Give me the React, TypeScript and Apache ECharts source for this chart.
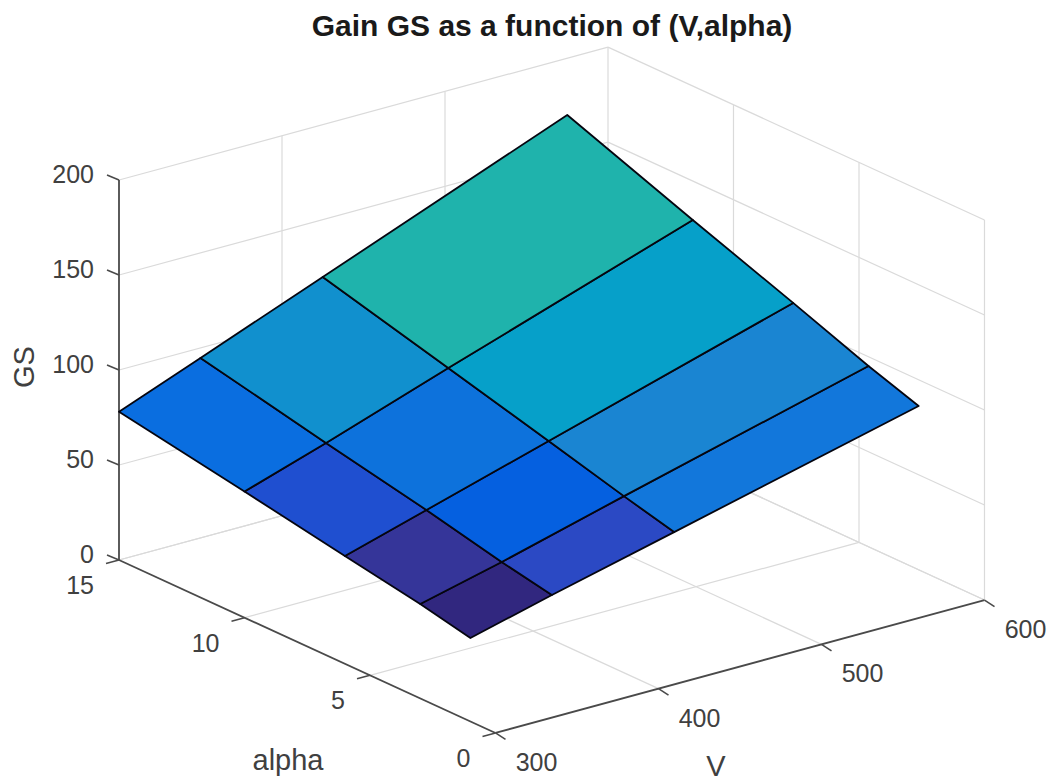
import React, { useEffect, useRef } from "react";
import * as echarts from "echarts";

// Data
const alphaValues = [1, 3, 6, 10, 15];
const voltageValues = [300, 350, 425, 575];
const gsRowAlpha1 = [43.9, 54.9, 70.5, 101.9];
const gsRowAlpha3 = [49.7, 60.1, 77.3, 110.8];
const gsRowAlpha6 = [56.7, 69.3, 88.1, 125.8];
const gsRowAlpha10 = [66.4, 80.3, 102.2, 145.2];
const gsRowAlpha15 = [78.05, 94.7, 119.8, 170.1];
const gsRows = [gsRowAlpha1, gsRowAlpha3, gsRowAlpha6, gsRowAlpha10, gsRowAlpha15];

const alphaTicks = [0, 5, 10, 15];
const voltageTicks = [300, 400, 500, 600];
const gsTicks = [0, 50, 100, 150, 200];

const colorLevels = [43.9, 49.7, 54.9, 56.7, 60.1, 66.4, 69.3, 70.5, 77.3, 80.3, 88.1, 102.2];
const colorRamp = [
  "#31277f", "#353599", "#2b49c4", "#1f4fd0", "#0560e0", "#0a6ee0",
  "#0d72dc", "#1277db", "#1a85d2", "#1190ce", "#06a0c9", "#1fb3ac",
];

const TITLE = "Gain GS as a function of (V,alpha)";
const FONT = "'Liberation Sans', Arial, Helvetica, sans-serif";
const LABEL_SIZE = 25;
const TEXT_COLOR = "#404040";
const AXIS_COLOR = "#4a4a4a";
const GRID_COLOR = "#dadada";

// Orthographic view of the 3-D box onto the hidden 2-D axes
const ALPHA_MAX = 15;
const V_MIN = 300;
const V_MAX = 600;
const GS_MAX = 200;
function project(a: number, v: number, z: number): [number, number] {
  const da = ALPHA_MAX - a;
  const dv = v - V_MIN;
  return [119 + da * 25.1 + dv * 1.63, 560 + da * 11.53 - dv * 0.443 - z * 1.9];
}

function colorFor(value: number): string {
  let best = 0;
  let bestDist = Infinity;
  colorLevels.forEach((level, i) => {
    const d = Math.abs(level - value);
    if (d < bestDist) {
      bestDist = d;
      best = i;
    }
  });
  return colorRamp[best];
}

type Seg = [number, number, number, number, number, number];

function gridSegments(): Seg[] {
  const out: Seg[] = [];
  gsTicks.forEach((z) => {
    out.push([ALPHA_MAX, V_MIN, z, ALPHA_MAX, V_MAX, z]);
    out.push([ALPHA_MAX, V_MAX, z, 0, V_MAX, z]);
  });
  voltageTicks.slice(1).forEach((v) => {
    out.push([ALPHA_MAX, v, 0, ALPHA_MAX, v, GS_MAX]);
    out.push([ALPHA_MAX, v, 0, 0, v, 0]);
  });
  alphaTicks.forEach((a) => {
    if (a !== ALPHA_MAX) out.push([a, V_MAX, 0, a, V_MAX, GS_MAX]);
    if (a !== 0) out.push([a, V_MIN, 0, a, V_MAX, 0]);
  });
  return out;
}

const axisSegments: Seg[] = [
  [ALPHA_MAX, V_MIN, 0, ALPHA_MAX, V_MIN, GS_MAX],
  [ALPHA_MAX, V_MIN, 0, 0, V_MIN, 0],
  [0, V_MIN, 0, 0, V_MAX, 0],
];

const surfaceCells: number[][] = [];
for (let i = 0; i < alphaValues.length - 1; i++) {
  for (let j = 0; j < voltageValues.length - 1; j++) {
    surfaceCells.push([i, j]);
  }
}

type TickItem = [number, number, number, string, number, number, number, number];
const tickItems: TickItem[] = [
  ...gsTicks.map((z): TickItem => [ALPHA_MAX, V_MIN, z, String(z), -12, -5, -25, -6]),
  ...alphaTicks.map((a): TickItem => [a, V_MIN, 0, String(a), -13, 3.5, -25, 25]),
  ...voltageTicks.map((v): TickItem => [0, v, 0, String(v), 10, 6.5, 41, 29]),
];

export default function App() {
  const ref = useRef<HTMLDivElement>(null);
  useEffect(() => {
    document.body.style.margin = "0";
    const chart = echarts.init(ref.current!, undefined, { renderer: "svg" });

    const segRender = (color: string, width: number) => (_p: any, api: any) => {
      const a = api.coord(project(api.value(0), api.value(1), api.value(2)));
      const b = api.coord(project(api.value(3), api.value(4), api.value(5)));
      return {
        type: "line",
        shape: { x1: a[0], y1: a[1], x2: b[0], y2: b[1] },
        style: { stroke: color, lineWidth: width, fill: "none" },
      };
    };

    chart.setOption({
      animation: false,
      backgroundColor: "#ffffff",
      title: {
        text: TITLE,
        left: 547,
        top: 5,
        textAlign: "center",
        textStyle: { fontFamily: FONT, fontSize: 30, fontWeight: "bold", color: "#1a1a1a" },
      },
      grid: { left: 0, right: 0, top: 0, bottom: 0 },
      xAxis: { type: "value", min: 0, max: 1054, show: false },
      yAxis: { type: "value", min: 0, max: 781, inverse: true, show: false },
      series: [
        {
          type: "custom",
          silent: true,
          z: 1,
          data: gridSegments(),
          renderItem: segRender(GRID_COLOR, 1.2),
        },
        {
          type: "custom",
          silent: true,
          z: 2,
          data: axisSegments,
          renderItem: segRender(AXIS_COLOR, 1.8),
        },
        {
          type: "custom",
          silent: true,
          z: 3,
          data: surfaceCells,
          renderItem: (_p: any, api: any) => {
            const i = api.value(0);
            const j = api.value(1);
            const corner = (r: number, c: number) =>
              api.coord(project(alphaValues[r], voltageValues[c], gsRows[r][c]));
            return {
              type: "polygon",
              shape: { points: [corner(i, j), corner(i, j + 1), corner(i + 1, j + 1), corner(i + 1, j)] },
              style: { fill: colorFor(gsRows[i][j]), stroke: "#05050f", lineWidth: 1.8, lineJoin: "round" },
            };
          },
        },
        {
          type: "custom",
          silent: true,
          z: 4,
          data: tickItems,
          encode: {},
          renderItem: (p: any, api: any) => {
            const it = tickItems[p.dataIndex];
            const o = api.coord(project(it[0], it[1], it[2]));
            return {
              type: "group",
              children: [
                {
                  type: "line",
                  shape: { x1: o[0], y1: o[1], x2: o[0] + it[4], y2: o[1] + it[5] },
                  style: { stroke: AXIS_COLOR, lineWidth: 1.6 },
                },
                {
                  type: "text",
                  style: {
                    text: it[3],
                    x: o[0] + it[6],
                    y: o[1] + it[7],
                    align: it[6] < 0 ? "right" : "center",
                    verticalAlign: "middle",
                    fontFamily: FONT,
                    fontSize: LABEL_SIZE,
                    fill: TEXT_COLOR,
                  },
                },
              ],
            };
          },
        },
        {
          type: "custom",
          silent: true,
          z: 4,
          data: [[0]],
          renderItem: (_p: any, api: any) => {
            const label = (text: string, x: number, y: number, rotation = 0) => {
              const c = api.coord([x, y]);
              return {
                type: "text",
                x: c[0],
                y: c[1],
                rotation,
                style: {
                  text,
                  x: 0,
                  y: 0,
                  align: "center",
                  verticalAlign: "middle",
                  fontFamily: FONT,
                  fontSize: 29,
                  fill: TEXT_COLOR,
                },
              };
            };
            return {
              type: "group",
              children: [
                label("alpha", 288, 760),
                label("V", 716, 766),
                label("GS", 24, 367, Math.PI / 2),
              ],
            };
          },
        },
      ],
    });
    return () => chart.dispose();
  }, []);
  return <div ref={ref} style={{ width: 1054, height: 781 }} />;
}
